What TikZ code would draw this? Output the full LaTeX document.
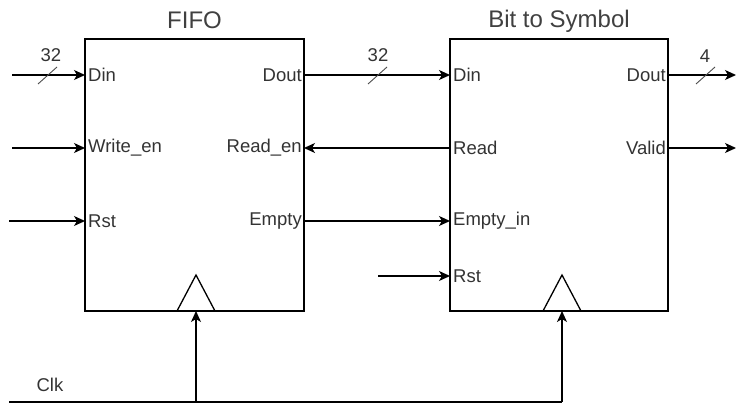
\documentclass[tikz,border=0pt]{standalone}
\usepackage{fontspec}
\setmainfont{Liberation Sans}
\usetikzlibrary{arrows.meta}
\begin{document}
\begin{tikzpicture}[x=1pt,y=-1pt,
  blk/.style={draw=black,line width=1.3pt},
  wire/.style={draw=black,line width=1.3pt},
  arr/.style={wire,-{Stealth[length=11pt,width=10pt,inset=3pt]}},
  plab/.style={text=black!80,font=\fontsize{18.5}{20}\selectfont,inner sep=0pt},
  ttl/.style={text=black!75,font=\fontsize{24}{26}\selectfont,inner sep=0pt},
  buslab/.style={text=black!80,font=\fontsize{18.5}{20}\selectfont,inner sep=0pt},
  slash/.style={draw=black!70,line width=0.9pt}]
\useasboundingbox (0,0) rectangle (736,403);
% boxes
\draw[blk] (85,39) rectangle (304,311);
\draw[blk] (450,39) rectangle (668,311);
\node[ttl] (t1) at (194.5,20) {FIFO};
\node[ttl] (t2) at (559,21) {Bit to Symbol};
% clock triangles
\draw[blk,line join=miter] (177,311) -- (196,275) -- (215,311);
\draw[blk,line join=miter] (543,311) -- (562,275) -- (581,311);
% port coordinates
\coordinate (fdin) at (85,75);
\coordinate (fwe) at (85,148);
\coordinate (frst) at (85,221);
\coordinate (fdout) at (304,75);
\coordinate (fre) at (304,148);
\coordinate (femp) at (304,221);
\coordinate (bdin) at (450,75);
\coordinate (bread) at (450,148);
\coordinate (bemp) at (450,221);
\coordinate (brst) at (450,276);
\coordinate (bdout) at (668,75);
\coordinate (bvalid) at (668,148);
\coordinate (fclk) at (196,311);
\coordinate (bclk) at (562,311);
% labels
\node[plab,anchor=west] (l1) at (88,75) {Din};
\node[plab,anchor=west] (l2) at (88,148) {Write\_en};
\node[plab,anchor=west] (l3) at (88,221) {Rst};
\node[plab,anchor=east] (l4) at (302,75) {Dout};
\node[plab,anchor=east] (l5) at (302,148) {Read\_en};
\node[plab,anchor=east] (l6) at (302,221) {Empty};
\node[plab,anchor=west] (m1) at (453,75) {Din};
\node[plab,anchor=west] (m2) at (453,148) {Read};
\node[plab,anchor=west] (m3) at (453,221) {Empty\_in};
\node[plab,anchor=west] (m4) at (453,276) {Rst};
\node[plab,anchor=east] (m5) at (666,75) {Dout};
\node[plab,anchor=east] (m6) at (666,148) {Valid};
% external ends
\coordinate (in1) at (12,75);
\coordinate (in2) at (12,148);
\coordinate (in3) at (9,221);
\coordinate (in4) at (378,276);
\coordinate (out1) at (736,75);
\coordinate (out2) at (736,148);
\coordinate (ck0) at (9,402);
\coordinate (ck1) at (196,402);
\coordinate (ck2) at (562,402);
% wires
\draw[arr] (in1) -- (fdin);
\draw[arr] (in2) -- (fwe);
\draw[arr] (in3) -- (frst);
\draw[arr] (fdout) -- (bdin);
\draw[arr] (bread) -- (fre);
\draw[arr] (femp) -- (bemp);
\draw[arr] (in4) -- (brst);
\draw[arr] (bdout) -- (out1);
\draw[arr] (bvalid) -- (out2);
\draw[wire] (ck0) -- (ck2);
\draw[arr] (ck1) -- (fclk);
\draw[arr] (ck2) -- (bclk);
% bus slashes
\draw[slash] (38,84) -- (57,67);
\node[buslab] (b1) at (51,55) {32};
\draw[slash] (368,84) -- (387,67);
\node[buslab] (b2) at (378,55) {32};
\draw[slash] (696,84) -- (715,67);
\node[buslab] (b3) at (705,56) {4};
\node[plab] (clk) at (50,385) {Clk};
\end{tikzpicture}
\end{document}
